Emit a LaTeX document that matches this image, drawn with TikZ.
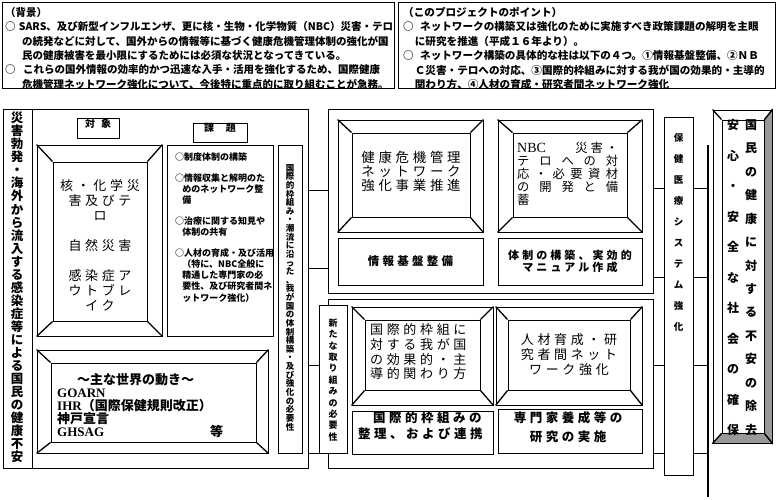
\documentclass[tikz,border=0pt]{standalone}
\usepackage{fontspec}
\setmainfont{Liberation Serif}
\newfontfamily\jp{Noto Sans CJK JP}
\newfontfamily\jpsp{Noto Sans CJK JP}[LetterSpace=28]
\usetikzlibrary{positioning, fit}

\begin{document}
\begin{tikzpicture}[
    x=1pt, y=-1pt,
    frame/.style={draw, line width=0.8pt, inner sep=0pt},
    slant/.style={draw=black, line width=1.3pt},
    link/.style={line width=0.8pt},
    note/.style={inner sep=0pt, align=left, font=\jp\bfseries\fontsize{10.5}{14.4}\selectfont},
    tag/.style={inner sep=0pt, font=\jp\bfseries\fontsize{10}{11}\selectfont},
    big/.style={inner sep=0pt, align=center, font=\jpsp\fontsize{13}{15}\selectfont},
    tate/.style={inner sep=0pt, align=center},
]
\fill[white] (0,0) rectangle (777,499);
\useasboundingbox (0,0) rectangle (777,499);

% top notes
\node[frame, fit={(2,2) (394,88)}] (haikei) {};
\node[frame, fit={(398,2) (775,88)}] (point) {};
\node[note, anchor=north west] (t-haikei) at (5,7) {（背景）\\
○\hspace{0.3em}SARS、及び新型インフルエンザ、更に核・生物・化学物質（NBC）災害・テロ\\
\hspace*{1.6em}の続発などに対して、国外からの情報等に基づく健康危機管理体制の強化が国\\
\hspace*{1.6em}民の健康被害を最小限にするためには必須な状況となってきている。\\
○\hspace{0.7em}これらの国外情報の効率的かつ迅速な入手・活用を強化するため、国際健康\\
\hspace*{1.6em}危機管理ネットワーク強化について、今後特に重点的に取り組むことが急務。};
\node[note, anchor=north west, font=\jp\bfseries\fontsize{10.6}{14.4}\selectfont] (t-point) at (403,7) {（このプロジェクトのポイント）\\
○\hspace{0.6em}ネットワークの構築又は強化のために実施すべき政策課題の解明を主眼\\
\hspace*{1.1em}に研究を推進（平成１６年より）。\\
○\hspace{0.6em}ネットワーク構築の具体的な柱は以下の４つ。①情報基盤整備、②ＮＢ\\
\hspace*{1.1em}Ｃ災害・テロへの対応、③国際的枠組みに対する我が国の効果的・主導的\\
\hspace*{1.1em}関わり方、④人材の育成・研究者間ネットワーク強化};

% left block
\node[frame, fit={(3,109) (308,468)}] (left) {};
\draw[link] (left.north -| 32,0) -- (left.south -| 32,0);
\node[tate, font=\jp\bfseries\fontsize{12.5}{13.04}\selectfont] (t-fuan) at (17,287.5)
  {災\\害\\勃\\発\\・\\海\\外\\か\\ら\\流\\入\\す\\る\\感\\染\\症\\等\\に\\よ\\る\\国\\民\\の\\健\\康\\不\\安};

\node[frame, tag, fit={(77,118) (119,138)}] (taisho) {対\hspace{0.6em}象};
\node[frame, tag, fit={(193,123) (247,142)}] (kadai) {課\hspace{1.2em}題};

\node[frame, fit={(37,145) (162,336)}] (kakuo) {};
\node[frame, fit={(53,162) (147,321)}] (kakui) {};
\node[big] (t-kaku) at (100,245) {核・化学災\\害及びテ\\ロ\\[15pt]自然災害\\[15pt]感染症ア\\ウトブレ\\イク};

\node[frame, fit={(167,145) (273,336)}] (kadaibox) {};
\node[inner sep=0pt, align=left, anchor=west, font=\jp\bfseries\fontsize{9}{11.2}\selectfont] (t-kadai) at (175,227.5)
  {○制度体制の構築\\[9.5pt]
   ○情報収集と解明のた\\\hspace*{0.8em}めのネットワーク整\\\hspace*{0.8em}備\\[9.5pt]
   ○治療に関する知見や\\\hspace*{0.8em}体制の共有\\[9.5pt]
   ○人材の育成・及び活用\\\hspace*{0.8em}（特に、NBC全般に\\\hspace*{0.8em}精通した専門家の必\\\hspace*{0.8em}要性、及び研究者間ネ\\\hspace*{0.8em}ットワーク強化）};

\node[frame, fit={(278,145) (302,453)}] (choryu) {};
\node[tate, font=\jp\bfseries\fontsize{8.5}{8.63}\selectfont] (t-choryu) at (290,297.5)
  {国\\際\\的\\枠\\組\\み\\・\\潮\\流\\に\\沿\\っ\\た\\、\\我\\が\\国\\の\\体\\制\\構\\築\\・\\及\\び\\強\\化\\の\\必\\要\\性};

\node[frame, fit={(37,350) (268,453)}] (worldo) {};
\node[frame, fit={(51,363) (256,442)}] (worldi) {};
\node[inner sep=0pt, align=left, anchor=west, font=\bfseries\fontsize{13}{13}\selectfont] (t-world) at (57,406)
  {\hspace*{20pt}{\jp ～主な世界の動き～}\\GOARN\\IHR{\jp（国際保健規則改正）}\\{\jp 神戸宣言}\\GHSAG\hspace{106pt}{\jp 等}};

% upper middle block
\node[frame, fit={(328,109) (653,293)}] (upper) {};
\node[frame, fit={(338,120) (483,232)}] (kenkoo) {};
\node[frame, fit={(352,133) (470,217)}] (kenkoi) {};
\node[big, font=\jpsp\fontsize{13.4}{14}\selectfont] (t-kenko) at (411,171) {健康危機管理\\ネットワーク\\強化事業推進};
\node[frame, fit={(498,120) (642,232)}] (nbco) {};
\node[frame, fit={(513,133) (627,217)}] (nbci) {};
\node[inner sep=0pt, align=left, anchor=west, font=\jp\fontsize{12.3}{13}\selectfont] (t-nbc) at (517,174)
  {\makebox[101pt][s]{{\rmfamily\fontsize{14}{13}\selectfont NBC}\hfill 災\hspace{3pt}害\hspace{3pt}・}\\
   \makebox[101pt][s]{テ\hfill ロ\hfill へ\hfill の\hfill 対}\\
   \makebox[101pt][s]{応\hfill ・\hfill 必\hfill 要\hfill 資\hfill 材}\\
   \makebox[101pt][s]{の\hfill 開\hfill 発\hfill と\hfill 備}\\
   蓄};
\node[frame, fit={(338,238) (483,285)}] (joho) {};
\node[inner sep=0pt, font=\jpsp\bfseries\fontsize{11.5}{12}\selectfont] (t-joho) at (joho.center) {情報基盤整備};
\node[frame, fit={(498,238) (642,285)}] (taisei) {};
\node[inner sep=0pt, align=center, font=\jpsp\bfseries\fontsize{11}{11.5}\selectfont] (t-taisei) at (taisei.center) {体制の構築、実効的\\マニュアル作成};

% lower middle block
\node[frame, fit={(328,299) (653,468)}] (lower) {};
\node[frame, fill=white, fit={(319,305) (347,453)}] (arata) {};
\node[tate, font=\jp\bfseries\fontsize{9}{11.4}\selectfont] (t-arata) at (333,380)
  {新\\た\\な\\取\\り\\組\\み\\の\\必\\要\\性};
\node[frame, fit={(352,307) (493,405)}] (wakuo) {};
\node[frame, fit={(365,320) (480,390)}] (wakui) {};
\node[big, align=left, anchor=west, font=\jpsp\fontsize{13}{14.7}\selectfont] (t-waku) at (370,352) {国際的枠組に\\対する我が国\\の効果的・主\\導的関わり方};
\node[frame, fit={(496,307) (642,405)}] (jinzaio) {};
\node[frame, fit={(508,320) (630,390)}] (jinzaii) {};
\node[big] (t-jinzai) at (569,355) {人材育成・研\\究者間ネット\\ワーク強化};
\node[frame, fit={(352,411) (493,454)}] (seiri) {};
\node[inner sep=0pt, align=left, anchor=west, font=\jpsp\bfseries\fontsize{12.5}{16}\selectfont] (t-seiri) at (358,426) {\hspace*{1.2em}国際的枠組みの\\整理、および連携};
\node[frame, fit={(498,409) (642,453)}] (senmon) {};
\node[inner sep=0pt, align=center, font=\jpsp\bfseries\fontsize{12.5}{19}\selectfont] (t-senmon) at (568,427.5) {専門家養成等の\\研究の実施};

% right side
\node[frame, fit={(664,117) (693,475)}] (hoken) {};
\node[tate, font=\jp\bfseries\fontsize{9.5}{21}\selectfont] (t-hoken) at (678.5,232.5)
  {保\\健\\医\\療\\シ\\ス\\テ\\ム\\強\\化};

\node[frame, fit={(713,110) (772,443)}] (kokumino) {};
\node[frame, fit={(722,120) (764,433)}] (kokumini) {};
\fill[gray!80, draw=black, line width=0.8pt] (kokumino.north east) -- (kokumini.north east) -- (kokumini.south east) -- (kokumino.south east) -- cycle;
\fill[gray!80, draw=black, line width=0.8pt] (kokumino.south west) -- (kokumini.south west) -- (kokumini.south east) -- (kokumino.south east) -- cycle;
\node[tate, font=\jp\bfseries\fontsize{12}{23.46}\selectfont] (t-kokumin) at (751,277.5)
  {国\\民\\の\\健\\康\\に\\対\\す\\る\\不\\安\\の\\除\\去};
\node[tate, font=\jp\bfseries\fontsize{12}{30.5}\selectfont] (t-anshin) at (733,277.5)
  {安\\心\\・\\安\\全\\な\\社\\会\\の\\確\\保};

% bevel corners, drawn last
\foreach \bo/\bi in {kakuo/kakui,worldo/worldi,kenkoo/kenkoi,nbco/nbci,wakuo/wakui,jinzaio/jinzaii,kokumino/kokumini}{
  \draw[slant] (\bo.north west) -- (\bi.north west);
  \draw[slant] (\bo.north east) -- (\bi.north east);
  \draw[slant] (\bo.south west) -- (\bi.south west);
  \draw[slant] (\bo.south east) -- (\bi.south east);
}

% connectors
\draw[link] (left.east |- 0,190) -- (upper.west |- 0,190);
\draw[link] (left.east |- 0,268) -- (upper.west |- 0,268);
\draw[link] (left.east |- 0,365) -- (arata.west |- 0,365);
\draw[link] (left.east |- 0,453) -- (arata.west |- 0,453);
\draw[link] (upper.east |- 0,188) -- (hoken.west |- 0,188);
\draw[link] (upper.east |- 0,277) -- (hoken.west |- 0,277);
\draw[link] (lower.east |- 0,365) -- (hoken.west |- 0,365);
\draw[link] (lower.east |- 0,453) -- (hoken.west |- 0,453);

\coordinate (brtop) at (708,145);
\coordinate (brbot) at (708,497);
\draw[line width=1.2pt] (brtop) -- (brbot);
\foreach \yy in {188,277,365,453}
  \draw[link] (hoken.east |- 0,\yy) -- (brtop |- 0,\yy);
\end{tikzpicture}
\end{document}
